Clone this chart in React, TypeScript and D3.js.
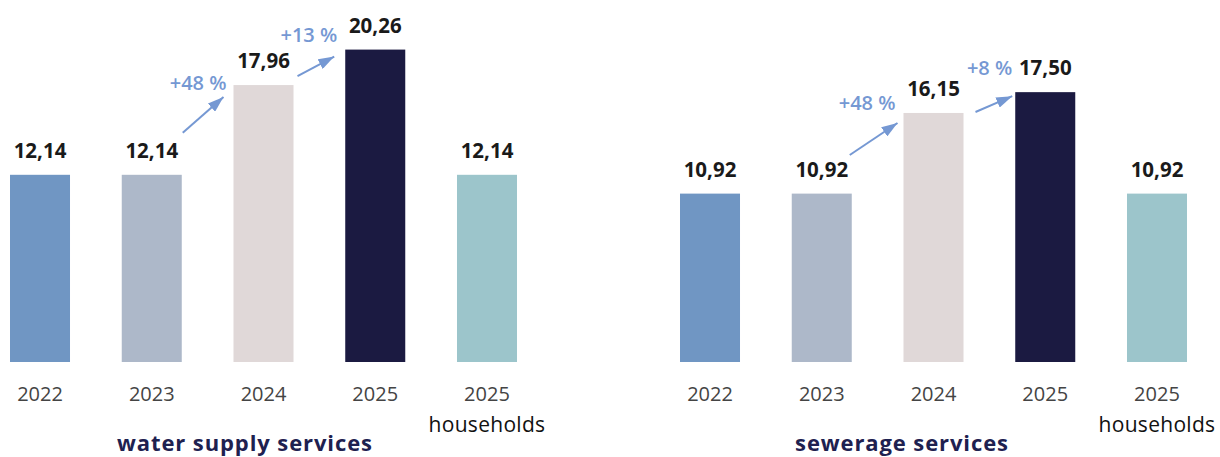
import React from 'react';
import * as d3 from 'd3';

// ---- data ----
const categories = ['2022', '2023', '2024', '2025', '2025 households'];
const yearLabels = ['2022', '2023', '2024', '2025', '2025'];
const subLabels = ['', '', '', '', 'households'];
const waterValues = [12.14, 12.14, 17.96, 20.26, 12.14];
const sewerValues = [10.92, 10.92, 16.15, 17.5, 10.92];
const waterChanges = [
  { from: 1, to: 2, label: '+48 %' },
  { from: 2, to: 3, label: '+13 %' },
];
const sewerChanges = [
  { from: 1, to: 2, label: '+48 %' },
  { from: 2, to: 3, label: '+8 %' },
];
const titles = ['water supply services', 'sewerage services'];

// ---- styles / layout ----
const barColors = ['#7096c3', '#adb8c9', '#e0d8d8', '#1b1a41', '#9cc5cb'];
const accent = '#7598d3';
const W = 1220;
const H = 457;
const FONT = "'Open Sans', sans-serif";

const x = d3.scaleBand<string>().domain(categories).range([10, 517]).paddingInner(0.463).paddingOuter(0);
const y = d3.scaleLinear().domain([0, 20]).range([362, 362 - 308.4]);
const fmt = (v: number) => d3.format('.2f')(v).replace('.', ',');

type Ann = { sx: number; sy: number; ex: number; ey: number; lx: number; ly: number };

const panels = [
  {
    values: waterValues,
    changes: waterChanges,
    title: titles[0],
    dx: 0,
    titleX: 245,
    ann: [
      { sx: 1, sy: -42, ex: -10, ey: 12, lx: -7, ly: 4.5 },
      { sx: 4, sy: -9, ex: -11, ey: 7, lx: -8, ly: -7.6 },
    ] as Ann[],
  },
  {
    values: sewerValues,
    changes: sewerChanges,
    title: titles[1],
    dx: 670,
    titleX: 232,
    ann: [
      { sx: -2, sy: -38.6, ex: -6, ey: 10, lx: -8, ly: -3 },
      { sx: 12, sy: -1, ex: -3, ey: 4, lx: -3, ly: -17 },
    ] as Ann[],
  },
];

function Panel({ p, idx }: { p: (typeof panels)[number]; idx: number }) {
  const bw = x.bandwidth();
  return (
    <g transform={`translate(${p.dx},0)`}>
      {categories.map((c, i) => (
        <rect
          key={c}
          x={x(c)}
          y={y(p.values[i])}
          width={bw}
          height={y(0) - y(p.values[i])}
          fill={barColors[i]}
        />
      ))}
      {categories.map((c, i) => (
        <text
          key={'v' + c}
          x={(x(c) as number) + bw / 2}
          y={y(p.values[i]) - 17}
          textAnchor="middle"
          fontFamily={FONT}
          fontWeight={700}
          fontSize={20.5}
          fill="#1a1a1a"
        >
          {fmt(p.values[i])}
        </text>
      ))}
      {categories.map((c, i) => (
        <text
          key={'y' + c}
          x={(x(c) as number) + bw / 2}
          y={401}
          textAnchor="middle"
          fontFamily={FONT}
          fontSize={20}
          fill="#444"
        >
          {yearLabels[i]}
        </text>
      ))}
      {categories.map((c, i) =>
        subLabels[i] ? (
          <text
            key={'s' + c}
            x={(x(c) as number) + bw / 2}
            y={432}
            textAnchor="middle"
            fontFamily={FONT}
            fontSize={21}
            letterSpacing={0.3}
            fill="#111"
          >
            {subLabels[i]}
          </text>
        ) : null
      )}
      {p.changes.map((ch, k) => {
        const a = p.ann[k];
        const prev = categories[ch.from];
        const cur = categories[ch.to];
        const x1 = (x(prev) as number) + bw + a.sx;
        const y1 = y(p.values[ch.from]) + a.sy;
        const x2 = (x(cur) as number) + a.ex;
        const y2 = y(p.values[ch.to]) + a.ey;
        return (
          <g key={'c' + k}>
            <line x1={x1} y1={y1} x2={x2} y2={y2} stroke={accent} strokeWidth={2} markerEnd={`url(#arrow${idx})`} />
            <text
              x={(x(cur) as number) + a.lx}
              y={y(p.values[ch.to]) + a.ly}
              textAnchor="end"
              fontFamily={FONT}
              fontSize={20}
              fontWeight={600}
              fill={accent}
            >
              {ch.label}
            </text>
          </g>
        );
      })}
      <text
        x={p.titleX}
        y={451}
        textAnchor="middle"
        fontFamily={FONT}
        fontWeight={700}
        fontSize={22}
        letterSpacing={0.9}
        fill="#1e2150"
      >
        {p.title}
      </text>
    </g>
  );
}

export default function App() {
  return (
    <svg
      width={W}
      height={H}
      viewBox={`0 0 ${W} ${H}`}
      style={{ position: 'absolute', left: 0, top: 0, display: 'block', background: '#fff' }}
    >
      <defs>
        {panels.map((_, i) => (
          <marker
            key={i}
            id={`arrow${i}`}
            viewBox="0 0 16 11"
            refX={16}
            refY={5.5}
            markerWidth={16}
            markerHeight={11}
            markerUnits="userSpaceOnUse"
            orient="auto"
          >
            <path d="M0,0 L16,5.5 L0,11 Z" fill={accent} />
          </marker>
        ))}
      </defs>
      {panels.map((p, i) => (
        <Panel key={i} p={p} idx={i} />
      ))}
    </svg>
  );
}
